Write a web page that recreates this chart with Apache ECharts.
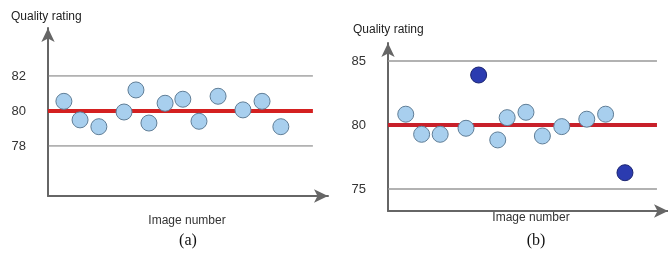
<!DOCTYPE html>
<html><head><meta charset="utf-8">
<script src="https://cdn.jsdelivr.net/npm/echarts@6/dist/echarts.min.js"></script>
<style>html,body{margin:0;padding:0;background:#fff}#c{width:668px;height:259px}</style>
</head><body><div id="c"></div>
<script>
// Panel (a)
const imageA  = [6, 12.1, 19.2, 28.7, 33.2, 38.1, 44.2, 50.9, 57, 64.2, 73.6, 80.8, 87.9];
const ratingA = [80.55, 79.49, 79.1, 79.94, 81.2, 79.31, 80.44, 80.67, 79.41, 80.84, 80.06, 80.55, 79.1];
const ticksA  = [78, 80, 82];
const gridTicksA = [78, 82];
const refA = 80;
// Panel (b)
const imageB  = [6.6, 12.5, 19.4, 29, 40.8, 44.3, 51.3, 57.4, 64.6, 73.9, 80.9];
const ratingB = [80.84, 79.27, 79.27, 79.74, 78.83, 80.57, 80.99, 79.14, 79.87, 80.45, 80.84];
const outlierImageB  = [33.7, 88.1];
const outlierRatingB = [83.9, 76.27];
const ticksB  = [75, 80, 85];
const gridTicksB = [75, 85];
const refB = 80;
const gridEnd = 100;

const chart = echarts.init(document.getElementById('c'));
const font = '"Liberation Sans", Arial, sans-serif';

function hline(v, xi, yi, color, width) {
  return { type: 'line', xAxisIndex: xi, yAxisIndex: yi, data: [[0, v], [gridEnd, v]],
    symbol: 'none', silent: true, lineStyle: { color: color, width: width }, z: 1 };
}
function pts(xs, ys, xi, yi, fill, border) {
  return { type: 'scatter', xAxisIndex: xi, yAxisIndex: yi, data: xs.map((x, i) => [x, ys[i]]),
    symbolSize: 16, itemStyle: { color: fill, borderColor: border, borderWidth: 1, opacity: 1 }, z: 5 };
}
function yAx(gi, min, max, ticks) {
  return { type: 'value', gridIndex: gi, min: min, max: max,
    axisLine: { show: true, lineStyle: { color: '#666', width: 2 }, symbol: ['none', 'arrow'], symbolSize: [10, 14] },
    axisTick: { show: false }, splitLine: { show: false },
    axisLabel: { customValues: ticks, color: '#333', fontSize: 13, fontFamily: font, margin: 22 } };
}
function xAx(gi, max) {
  return { type: 'value', gridIndex: gi, min: 0, max: max,
    axisLine: { show: true, lineStyle: { color: '#666', width: 2 }, symbol: ['none', 'arrow'], symbolSize: [10, 14] },
    axisTick: { show: false }, splitLine: { show: false }, axisLabel: { show: false } };
}

const series = [];
gridTicksA.forEach(v => series.push(hline(v, 0, 0, '#777', 1)));
series.push(hline(refA, 0, 0, '#d42020', 4));
series.push(pts(imageA, ratingA, 0, 0, '#a8cfee', '#5f7d96'));
gridTicksB.forEach(v => series.push(hline(v, 1, 1, '#999', 1.5)));
series.push(hline(refB, 1, 1, '#c8202a', 4));
series.push(pts(imageB, ratingB, 1, 1, '#a8cfee', '#5f7d96'));
series.push(pts(outlierImageB, outlierRatingB, 1, 1, '#2b3bb0', '#1a2470'));

chart.setOption({
  animation: false,
  textStyle: { fontFamily: font },
  grid: [
    { left: 48, top: 28, width: 280, height: 168 },
    { left: 388, top: 43, width: 280, height: 168 }
  ],
  xAxis: [xAx(0, 105.7), xAx(1, 104.1)],
  yAxis: [yAx(0, 75.14, 84.74, ticksA), yAx(1, 73.28, 86.4, ticksB)],
  series: series,
  title: [
    { text: 'Quality rating', left: 6, top: 6, textStyle: { fontSize: 12, fontWeight: 'normal', color: '#222', fontFamily: font } },
    { text: 'Quality rating', left: 348, top: 19, textStyle: { fontSize: 12, fontWeight: 'normal', color: '#222', fontFamily: font } },
    { text: 'Image number', left: 182, top: 210, textAlign: 'center', textStyle: { fontSize: 12, fontWeight: 'normal', color: '#333', fontFamily: font } },
    { text: 'Image number', left: 526, top: 207, textAlign: 'center', textStyle: { fontSize: 12, fontWeight: 'normal', color: '#333', fontFamily: font } },
    { text: '(a)', left: 183, top: 228, textAlign: 'center', textStyle: { fontSize: 16, fontWeight: 'normal', color: '#111', fontFamily: '"Liberation Serif", "Times New Roman", serif' } },
    { text: '(b)', left: 531, top: 228, textAlign: 'center', textStyle: { fontSize: 16, fontWeight: 'normal', color: '#111', fontFamily: '"Liberation Serif", "Times New Roman", serif' } }
  ]
});
</script></body></html>
